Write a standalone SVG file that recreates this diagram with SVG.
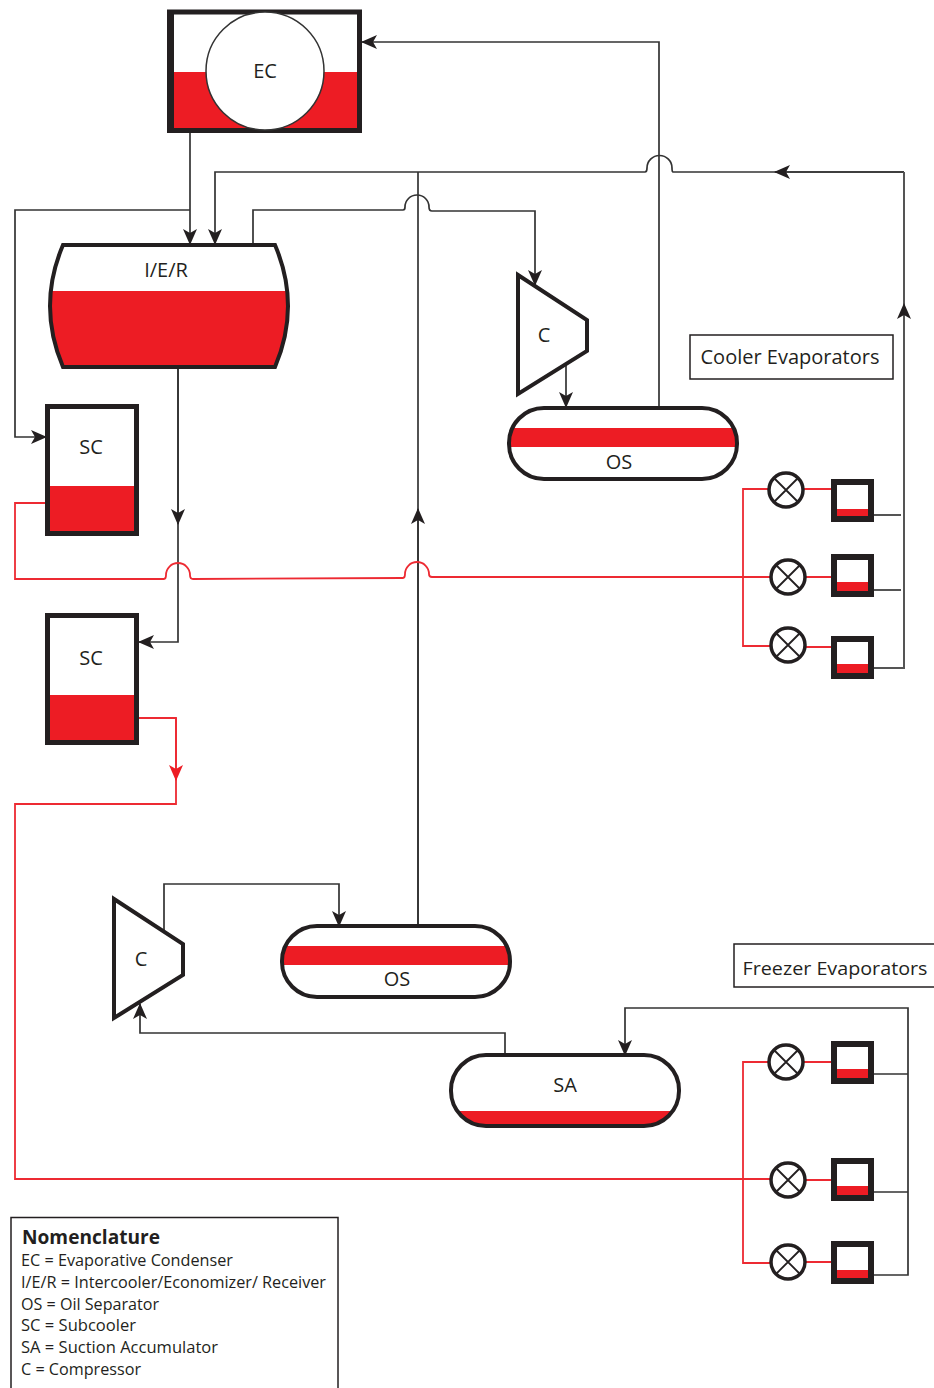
<svg xmlns="http://www.w3.org/2000/svg" width="934" height="1388" viewBox="0 0 934 1388">
<style>
text{font-family:"Open Sans","Noto Sans","Liberation Sans",sans-serif;fill:#231f20;text-anchor:middle}
.leg{font-size:16px;text-anchor:start}
.lab{font-size:20px}
.box{fill:#fff;stroke:#231f20;stroke-width:1.5}
.hvt{fill:none;stroke:#231f20;stroke-width:4}
.red{fill:#ed1c24}
.k{fill:none;stroke:#333;stroke-width:1.7}
.g{fill:none;stroke:#555;stroke-width:2}
.r{fill:none;stroke:#ed2a32;stroke-width:1.8}
.v{fill:#fff;stroke:#231f20;stroke-width:3.5}
.x{stroke:#231f20;stroke-width:1.8}
.e{fill:none;stroke:#231f20;stroke-width:6}
</style>
<defs>
<marker id="ak" markerUnits="userSpaceOnUse" markerWidth="17" markerHeight="16" refX="15" refY="8" orient="auto"><path d="M0,1 L16,8 L0,15 L4,8 Z" fill="#231f20"/></marker>
<marker id="ar" markerUnits="userSpaceOnUse" markerWidth="17" markerHeight="16" refX="15" refY="8" orient="auto"><path d="M0,1 L16,8 L0,15 L4,8 Z" fill="#ed1c24"/></marker>
<clipPath id="ier"><path d="M63,245 L275,245 Q301,306 275,367 L63,367 Q37,306 63,245 Z"/></clipPath>
<clipPath id="os1"><rect x="509" y="408" width="228" height="71" rx="35"/></clipPath>
<clipPath id="os2"><rect x="282" y="926" width="228" height="71" rx="35"/></clipPath>
<clipPath id="sa"><rect x="451" y="1055" width="228" height="71" rx="35"/></clipPath>
</defs>
<g id="connectors">
<path class="k" d="M659,408 V42 H362" marker-end="url(#ak)"/>
<path class="k" d="M190,132 V244" marker-end="url(#ak)"/>
<path class="k" d="M190,210 H15 V437 H46" marker-end="url(#ak)"/>
<path class="k" d="M904,172 H673 Q672,172 672,168 A12.500,12.500 0 0 0 647,168 Q647,172 645,172 H215 V244" marker-end="url(#ak)"/>
<path class="k" d="M904,172 H775" marker-end="url(#ak)"/>
<path class="k" d="M418,926 V172"/>
<path class="k" d="M418,926 V509" marker-end="url(#ak)"/>
<path class="k" d="M253,245 V210 H403 Q405,210 405,207 A12,12 0 0 1 429,207 Q429,211 432,211 H535 V285" marker-end="url(#ak)"/>
<path class="k" d="M566,365 V407" marker-end="url(#ak)"/>
<path class="k" d="M178,367 V642 H139" marker-end="url(#ak)"/>
<path class="k" d="M178,367 V524" marker-end="url(#ak)"/>
<path class="r" d="M45,503 H15 V579 H164 Q166,579 166,575 A12,12 0 0 1 190,575 Q190,579 193,579 L403,578 Q405,578 405,574 A12,12 0 0 1 429,574 Q429,577 432,577 H770"/>
<path class="r" d="M770,489 H743 V646 H770"/>
<path class="r" d="M800,489 H831 M802,577 H831 M802,647 H831"/>
<path class="g" d="M874,515 H901 M874,590 H901 M874,668 H904 V172"/>
<path class="g" d="M904,668 V304" marker-end="url(#ak)"/>
<path class="r" d="M139,718 H176 V804 H15 V1179 H770"/>
<path class="r" d="M176,718 V780" marker-end="url(#ar)"/>
<path class="k" d="M164,930 V884 H339 V926" marker-end="url(#ak)"/>
<path class="k" d="M505,1055 V1033 H140 V1004" marker-end="url(#ak)"/>
<path class="k" d="M874,1074 H908 M874,1192 H908 M874,1275 H908 V1008 H625 V1055" marker-end="url(#ak)"/>
<path class="r" d="M770,1062 H743 V1263 H770"/>
<path class="r" d="M800,1062 H831 M802,1180 H831 M802,1262 H831"/>
</g>
<g id="EC">
<rect x="170" y="12.500" width="189" height="118" fill="#fff"/>
<rect class="red" x="170" y="72" width="189" height="58"/>
<rect x="169.500" y="12" width="190" height="118.500" fill="none" stroke="#231f20" stroke-width="5"/>
<rect x="171" y="10" width="3" height="122" fill="#231f20"/>
<circle cx="265" cy="71" r="59" fill="#fff" stroke="#333" stroke-width="1.500"/>
<text class="lab" x="265" y="78">EC</text>
</g>
<g id="IER">
<path d="M63,245 L275,245 Q301,306 275,367 L63,367 Q37,306 63,245 Z" fill="#fff"/>
<rect class="red" x="40" y="291" width="260" height="80" clip-path="url(#ier)"/>
<path d="M63,245 L275,245 Q301,306 275,367 L63,367 Q37,306 63,245 Z" fill="none" stroke="#231f20" stroke-width="4"/>
<text class="lab" x="166" y="277">I/E/R</text>
</g>
<g id="SC1">
<rect x="47.500" y="406.500" width="89" height="127" fill="#fff"/>
<rect class="red" x="47.500" y="486" width="89" height="47"/>
<rect x="47.500" y="406.500" width="89" height="127" fill="none" stroke="#231f20" stroke-width="5"/>
<text class="lab" x="91" y="454">SC</text>
</g>
<g id="SC2">
<rect x="47.500" y="615.500" width="89" height="127" fill="#fff"/>
<rect class="red" x="47.500" y="695" width="89" height="47"/>
<rect x="47.500" y="615.500" width="89" height="127" fill="none" stroke="#231f20" stroke-width="5"/>
<text class="lab" x="91" y="665">SC</text>
</g>
<g id="C1">
<path class="hvt" d="M518,275 L587,320 V351 L518,394 Z" fill="#fff"/>
<text class="lab" x="544" y="342">C</text>
</g>
<g id="OS1">
<rect x="509" y="408" width="228" height="71" rx="35" fill="#fff"/>
<rect class="red" x="505" y="428" width="236" height="19" clip-path="url(#os1)"/>
<rect class="hvt" x="509" y="408" width="228" height="71" rx="35"/>
<text class="lab" x="619" y="469">OS</text>
</g>
<g id="C2">
<path class="hvt" d="M114,899 L183,944 V975 L114,1018 Z" fill="#fff"/>
<text class="lab" x="141" y="966">C</text>
</g>
<g id="OS2">
<rect x="282" y="926" width="228" height="71" rx="35" fill="#fff"/>
<rect class="red" x="278" y="946" width="236" height="19" clip-path="url(#os2)"/>
<rect class="hvt" x="282" y="926" width="228" height="71" rx="35"/>
<text class="lab" x="397" y="986">OS</text>
</g>
<g id="SA">
<rect x="451" y="1055" width="228" height="71" rx="35" fill="#fff"/>
<rect class="red" x="447" y="1111" width="236" height="16" clip-path="url(#sa)"/>
<rect class="hvt" x="451" y="1055" width="228" height="71" rx="35"/>
<text class="lab" x="565" y="1092">SA</text>
</g>
<g id="V1"><circle class="v" cx="786" cy="490" r="17"/><path class="x" d="M774,478 L798,502 M798,478 L774,502"/></g>
<g id="V2"><circle class="v" cx="788" cy="577" r="17"/><path class="x" d="M776,565 L800,589 M800,565 L776,589"/></g>
<g id="V3"><circle class="v" cx="788" cy="645" r="17"/><path class="x" d="M776,633 L800,657 M800,633 L776,657"/></g>
<g id="V4"><circle class="v" cx="786" cy="1062" r="17"/><path class="x" d="M774,1050 L798,1074 M798,1050 L774,1074"/></g>
<g id="V5"><circle class="v" cx="788" cy="1180" r="17"/><path class="x" d="M776,1168 L800,1192 M800,1168 L776,1192"/></g>
<g id="V6"><circle class="v" cx="788" cy="1262" r="17"/><path class="x" d="M776,1250 L800,1274 M800,1250 L776,1274"/></g>
<g id="E1"><rect x="834" y="482" width="37" height="37" fill="#fff"/><rect class="red" x="834" y="509" width="37" height="8"/><rect class="e" x="834" y="482" width="37" height="37"/></g>
<g id="E2"><rect x="834" y="557" width="37" height="37" fill="#fff"/><rect class="red" x="834" y="582" width="37" height="10"/><rect class="e" x="834" y="557" width="37" height="37"/></g>
<g id="E3"><rect x="834" y="639" width="37" height="37" fill="#fff"/><rect class="red" x="834" y="664" width="37" height="9"/><rect class="e" x="834" y="639" width="37" height="37"/></g>
<g id="E4"><rect x="834" y="1044" width="37" height="37" fill="#fff"/><rect class="red" x="834" y="1069" width="37" height="9"/><rect class="e" x="834" y="1044" width="37" height="37"/></g>
<g id="E5"><rect x="834" y="1161" width="37" height="37" fill="#fff"/><rect class="red" x="834" y="1186" width="37" height="9"/><rect class="e" x="834" y="1161" width="37" height="37"/></g>
<g id="E6"><rect x="834" y="1244" width="37" height="37" fill="#fff"/><rect class="red" x="834" y="1270" width="37" height="9"/><rect class="e" x="834" y="1244" width="37" height="37"/></g>
<g id="cooler-label"><rect class="box" x="690" y="335" width="203" height="44"/><text x="790" y="364" font-size="20" textLength="179" lengthAdjust="spacingAndGlyphs">Cooler Evaporators</text></g>
<g id="freezer-label"><rect class="box" x="734" y="944" width="210" height="43"/><text x="835" y="975" font-size="19" textLength="185" lengthAdjust="spacingAndGlyphs">Freezer Evaporators</text></g>
<g id="legend">
<rect class="box" x="11" y="1217.500" width="327" height="180"/>
<text class="leg" x="22" y="1244" style="font-size:20px;font-weight:700" textLength="138" lengthAdjust="spacingAndGlyphs">Nomenclature</text>
<text class="leg" x="21" y="1266" textLength="212" lengthAdjust="spacingAndGlyphs">EC = Evaporative Condenser</text>
<text class="leg" x="21" y="1288" textLength="305" lengthAdjust="spacingAndGlyphs">I/E/R = Intercooler/Economizer/ Receiver</text>
<text class="leg" x="21" y="1310" textLength="138" lengthAdjust="spacingAndGlyphs">OS = Oil Separator</text>
<text class="leg" x="21" y="1331" textLength="115" lengthAdjust="spacingAndGlyphs">SC = Subcooler</text>
<text class="leg" x="21" y="1353" textLength="197" lengthAdjust="spacingAndGlyphs">SA = Suction Accumulator</text>
<text class="leg" x="21" y="1375" textLength="120" lengthAdjust="spacingAndGlyphs">C = Compressor</text>
</g>
</svg>
